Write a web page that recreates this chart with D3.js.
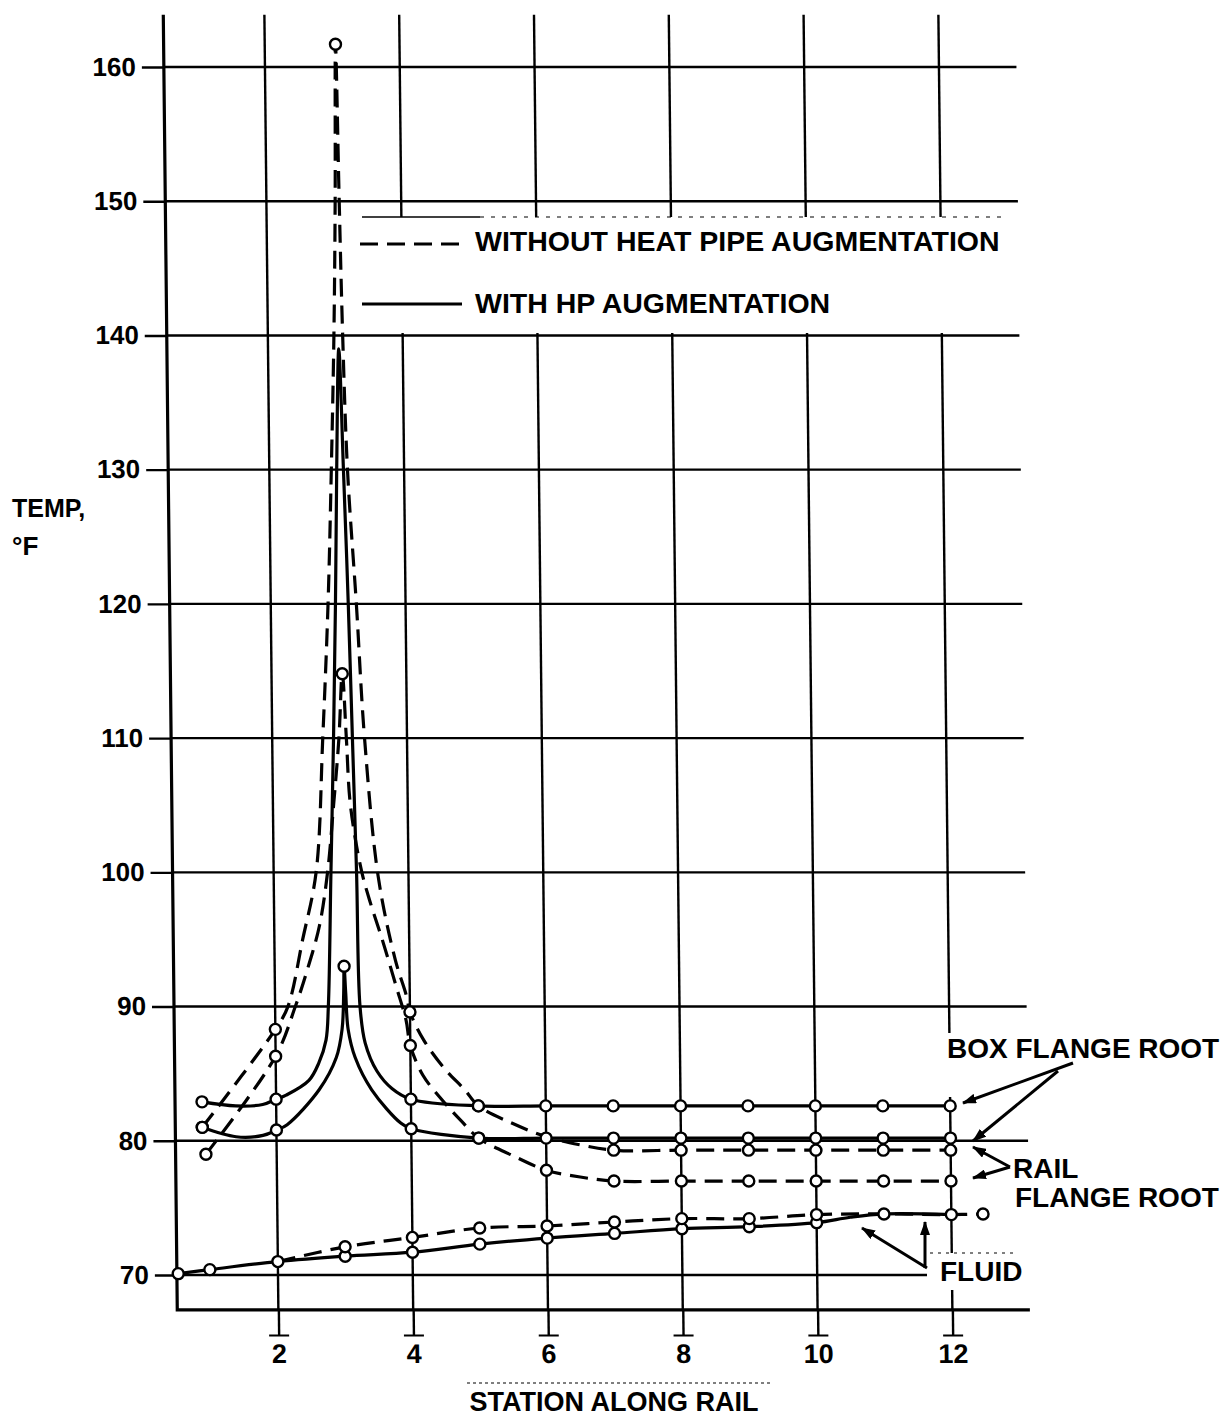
<!DOCTYPE html>
<html>
<head>
<meta charset="utf-8">
<script src="https://cdn.jsdelivr.net/npm/d3@7/dist/d3.min.js"></script>
<style>
  body { margin: 0; background: #fff; }
  svg { display: block; }
</style>
</head>
<body>
<svg id="chart" width="1225" height="1417"></svg>
<script>
const FONT = '"Liberation Sans", Arial, Helvetica, sans-serif';

// axes
const stationTicks = [2, 4, 6, 8, 10, 12];
const tempTicks = [70, 80, 90, 100, 110, 120, 130, 140, 150, 160];

// curves: [station, temp F, 1 = plotted point (circle)]
// box flange root, with heat pipe (solid)
const boxWithHP = [
    [0.9, 82.9, 1], [1.4, 82.6], [1.8, 82.7], [2, 83.1, 1], [2.15, 83.4], [2.49, 84.5],
    [2.64, 85.8], [2.75, 87.5], [2.79, 90], [2.85, 100], [2.91, 110], [2.96, 120],
    [3.0, 130], [3.05, 139], [3.1, 130], [3.15, 120], [3.19, 110], [3.23, 100],
    [3.26, 90], [3.33, 87.3], [3.5, 85.2], [3.72, 83.9], [4, 83.1, 1], [5, 82.6, 1],
    [6, 82.6, 1], [7, 82.6, 1], [8, 82.6, 1], [9, 82.6, 1], [10, 82.6, 1], [11, 82.6, 1], [12, 82.6, 1]
];
// box flange root, without heat pipe (dashed)
const boxWithoutHP = [
    [0.9, 81.0, 1], [2, 88.3, 1], [2.19, 90], [2.42, 95], [2.63, 100], [2.75, 110],
    [2.85, 120], [2.92, 130], [2.98, 140], [3.02, 150], [3.05, 161.7, 1], [3.08, 150],
    [3.11, 140], [3.16, 130], [3.27, 120], [3.37, 110], [3.55, 99.7], [3.79, 93.5],
    [3.95, 90.8], [4, 89.6, 1], [4.2, 87.5], [4.5, 85.4], [4.8, 83.8], [5, 82.6, 1],
    [5.5, 81.3], [6, 80.3], [6.5, 79.7], [7, 79.3, 1], [8, 79.3, 1], [9, 79.3, 1],
    [10, 79.3, 1], [11, 79.3, 1], [12, 79.3, 1]
];
// rail flange root, with heat pipe (solid)
const railWithHP = [
    [0.9, 81.0, 1], [1.4, 80.3], [1.8, 80.4], [2, 80.8, 1], [2.16, 81.2], [2.64, 83.8],
    [2.9, 86.2], [2.99, 88.3], [3.02, 91], [3.03, 93, 1], [3.05, 91], [3.08, 88.3],
    [3.18, 86.2], [3.42, 83.8], [3.85, 81.3], [4, 80.9, 1], [5, 80.2, 1], [6, 80.2, 1],
    [7, 80.2, 1], [8, 80.2, 1], [9, 80.2, 1], [10, 80.2, 1], [11, 80.2, 1], [12, 80.2, 1]
];
// rail flange root, without heat pipe (dashed)
const railWithoutHP = [
    [0.95, 79.0, 1], [2, 86.3, 1], [2.3, 90], [2.5, 93], [2.67, 96], [2.8, 100],
    [2.9, 105], [2.99, 110], [3.05, 114.8, 1], [3.1, 110], [3.15, 105], [3.3, 100.2],
    [3.42, 97.9], [3.6, 95], [3.8, 91.5], [3.94, 89], [4, 87.1, 1], [4.18, 84.9],
    [4.47, 83.0], [4.74, 81.5], [5, 80.2, 1], [5.5, 78.9], [6, 77.8, 1], [6.5, 77.3],
    [7, 77.0, 1], [8, 77.0, 1], [9, 77.0, 1], [10, 77.0, 1], [11, 77.0, 1], [12, 77.0, 1]
];
// fluid
const fluidWithHP = [
    [0.52, 70.1, 1], [0.99, 70.4, 1], [2, 71.0, 1], [3, 71.4, 1], [4, 71.7, 1], [5, 72.3, 1],
    [6, 72.75, 1], [7, 73.1, 1], [8, 73.45, 1], [9, 73.6, 1], [10, 73.9, 1], [10.5, 74.3],
    [11, 74.55, 1], [12, 74.5, 1]
];
const fluidWithoutHP = [
    [2, 71.0], [3, 72.1, 1], [4, 72.8, 1], [5, 73.5, 1], [6, 73.65, 1], [7, 73.95, 1],
    [8, 74.2, 1], [9, 74.2, 1], [10, 74.5, 1], [11, 74.55], [12, 74.5], [12.47, 74.55, 1]
];

const series = [
    {pts: boxWithHP, dashed: false},
    {pts: railWithHP, dashed: false},
    {pts: boxWithoutHP, dashed: true},
    {pts: railWithoutHP, dashed: true},
    {pts: fluidWithHP, dashed: false},
    {pts: fluidWithoutHP, dashed: true}
];

const svg = d3.select("#chart");

const x = d3.scaleLinear().domain([2, 12]).range([278, 952]);
const y = d3.scaleLinear().domain([70, 160]).range([1275, 67]);
const X_MIN = 0.5, X_MAX = 13.15, T_TOP = 163.9, T_FRAME = 67.4, T_STUB = 65.5;

// the scanned sheet is a little tilted: top of grid sits ~13px left of the bottom
const TILT = 0.0108;
const plot = svg.append("g")
    .attr("transform", `translate(${-y(70) * TILT},0) skewX(${Math.atan(TILT) * 180 / Math.PI})`);

// grid
plot.append("g").selectAll("line").data(tempTicks).join("line")
    .attr("x1", x(X_MIN)).attr("x2", x(X_MAX))
    .attr("y1", d => y(d)).attr("y2", d => y(d))
    .attr("stroke", "#000").attr("stroke-width", 2.4);

plot.append("g").selectAll("line").data(stationTicks).join("line")
    .attr("x1", d => x(d)).attr("x2", d => x(d))
    .attr("y1", y(T_TOP)).attr("y2", y(T_FRAME))
    .attr("stroke", "#000").attr("stroke-width", 2.4);

// frame: left axis + bottom line
plot.append("path")
    .attr("d", `M${x(X_MIN)},${y(T_TOP)}V${y(T_FRAME)}H${x(X_MAX)}`)
    .attr("fill", "none").attr("stroke", "#000").attr("stroke-width", 3.2);

// y axis labels
const yAxis = plot.append("g")
    .attr("transform", `translate(${x(X_MIN)},0)`)
    .call(d3.axisLeft(y).tickValues(tempTicks).tickSize(22).tickPadding(6));
yAxis.select(".domain").remove();
yAxis.attr("font-family", FONT).attr("font-size", 26).attr("font-weight", "bold");
yAxis.selectAll("line").attr("stroke", "#000").attr("stroke-width", 2.4);
yAxis.selectAll("text").attr("fill", "#000");

// x axis: stubs below the frame with little caps
const xAxis = plot.append("g")
    .attr("transform", `translate(0,${y(T_FRAME)})`)
    .call(d3.axisBottom(x).tickValues(stationTicks).tickSize(y(T_STUB) - y(T_FRAME)).tickPadding(8).tickFormat(d3.format("d")));
xAxis.select(".domain").remove();
xAxis.attr("font-family", FONT).attr("font-size", 27).attr("font-weight", "bold");
xAxis.selectAll("line").attr("stroke", "#000").attr("stroke-width", 2.4);
xAxis.selectAll(".tick").append("line")
    .attr("x1", -10).attr("x2", 10)
    .attr("y1", y(T_STUB) - y(T_FRAME)).attr("y2", y(T_STUB) - y(T_FRAME))
    .attr("stroke", "#000").attr("stroke-width", 2);
xAxis.selectAll("text").attr("fill", "#000");

// curves
const line = d3.line()
    .x(d => x(d[0]))
    .y(d => y(d[1]))
    .curve(d3.curveCatmullRom.alpha(0.5));

plot.append("g").selectAll("path").data(series).join("path")
    .attr("d", d => line(d.pts))
    .attr("fill", "none")
    .attr("stroke", "#000")
    .attr("stroke-width", 3.2)
    .attr("stroke-dasharray", d => d.dashed ? "18,9" : null);

const marks = series.flatMap(s => s.pts.filter(p => p[2]));
plot.append("g").selectAll("circle").data(marks).join("circle")
    .attr("cx", d => x(d[0])).attr("cy", d => y(d[1]))
    .attr("r", 5.5)
    .attr("fill", "#fff").attr("stroke", "#000").attr("stroke-width", 2.4);

// ---- annotations (page coordinates) ----
const notes = svg.append("g")
    .attr("font-family", FONT).attr("font-weight", "bold").attr("fill", "#000");

// white patches behind the labels
notes.append("rect").attr("x", 358).attr("y", 217).attr("width", 672).attr("height", 116).attr("fill", "#fff");
notes.append("rect").attr("x", 940).attr("y", 1033).attr("width", 285).attr("height", 64).attr("fill", "#fff");
notes.append("rect").attr("x", 927).attr("y", 1253).attr("width", 110).attr("height", 37).attr("fill", "#fff");

notes.append("line").attr("x1", 362).attr("x2", 480).attr("y1", 217).attr("y2", 217)
    .attr("stroke", "#000").attr("stroke-width", 1.4);
notes.append("line").attr("x1", 480).attr("x2", 1005).attr("y1", 217).attr("y2", 217)
    .attr("stroke", "#000").attr("stroke-width", 1.2).attr("stroke-dasharray", "4,7");
notes.append("line").attr("x1", 930).attr("x2", 1018).attr("y1", 1253).attr("y2", 1253)
    .attr("stroke", "#000").attr("stroke-width", 1.2).attr("stroke-dasharray", "3,5");

// legend
notes.append("line").attr("x1", 360).attr("x2", 462).attr("y1", 244).attr("y2", 244)
    .attr("stroke", "#000").attr("stroke-width", 3).attr("stroke-dasharray", "18,9");
notes.append("line").attr("x1", 362).attr("x2", 462).attr("y1", 304).attr("y2", 304)
    .attr("stroke", "#000").attr("stroke-width", 3);
notes.append("text").attr("x", 475).attr("y", 251).attr("font-size", 28.5).text("WITHOUT HEAT PIPE AUGMENTATION");
notes.append("text").attr("x", 475).attr("y", 313).attr("font-size", 28.5).text("WITH HP AUGMENTATION");

// curve labels
notes.append("text").attr("x", 947).attr("y", 1058).attr("font-size", 28).text("BOX FLANGE ROOT");
const rail = notes.append("text").attr("font-size", 28);
rail.append("tspan").attr("x", 1013).attr("y", 1178).text("RAIL");
rail.append("tspan").attr("x", 1015).attr("y", 1207).text("FLANGE ROOT");
notes.append("text").attr("x", 940).attr("y", 1281).attr("font-size", 28).text("FLUID");

// leader arrows
svg.append("defs").append("marker")
    .attr("id", "arrow")
    .attr("viewBox", "0 0 14 10")
    .attr("refX", 13).attr("refY", 5)
    .attr("markerWidth", 14).attr("markerHeight", 10)
    .attr("markerUnits", "userSpaceOnUse")
    .attr("orient", "auto")
    .append("path").attr("d", "M0,0L14,5L0,10Z").attr("fill", "#000");

const leaders = [
    [1073, 1063, 963, 1103],
    [1058, 1071, 973, 1141],
    [1010, 1167, 973, 1147],
    [1010, 1167, 973, 1178],
    [927, 1268, 862, 1228],
    [925, 1268, 925, 1222]
];
notes.append("g").selectAll("line").data(leaders).join("line")
    .attr("x1", d => d[0]).attr("y1", d => d[1])
    .attr("x2", d => d[2]).attr("y2", d => d[3])
    .attr("stroke", "#000").attr("stroke-width", 3)
    .attr("marker-end", "url(#arrow)");

// axis titles
notes.append("text").attr("x", 12).attr("y", 517).attr("font-size", 25).text("TEMP,");
notes.append("text").attr("x", 12).attr("y", 555).attr("font-size", 26).text("°F");

notes.append("line").attr("x1", 467).attr("x2", 770).attr("y1", 1383).attr("y2", 1383)
    .attr("stroke", "#000").attr("stroke-width", 1.2).attr("stroke-dasharray", "3,3");
notes.append("text").attr("x", 614).attr("y", 1411).attr("font-size", 27)
    .attr("text-anchor", "middle").text("STATION ALONG RAIL");
</script>
</body>
</html>
